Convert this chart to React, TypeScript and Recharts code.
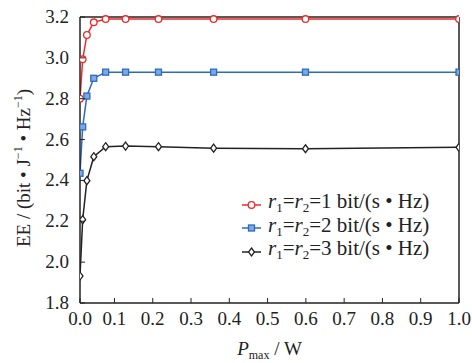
import React from 'react';
import { LineChart, Line, XAxis, YAxis, ReferenceLine } from 'recharts';

const pmax = [0.01, 0.017, 0.028, 0.046, 0.077, 0.129, 0.215, 0.359, 0.599, 1.0];
const eeRate1 = [2.8, 2.993, 3.112, 3.174, 3.19, 3.19, 3.19, 3.19, 3.19, 3.19];
const eeRate2 = [2.435, 2.662, 2.813, 2.9, 2.93, 2.93, 2.93, 2.93, 2.93, 2.93];
const eeRate3 = [1.932, 2.208, 2.399, 2.516, 2.565, 2.568, 2.565, 2.558, 2.555, 2.562];

const xTicks = [0.01, 0.1, 0.2, 0.3, 0.4, 0.5, 0.6, 0.7, 0.8, 0.9, 1.0];
const yTicks = [1.8, 2.0, 2.2, 2.4, 2.6, 2.8, 3.0, 3.2];
const rateLabels = ['1', '2', '3'];

const data = pmax.map((p, i) => ({
  p,
  r1: eeRate1[i],
  r2: eeRate2[i],
  r3: eeRate3[i],
}));

const FONT = '"Liberation Serif", "DejaVu Serif", serif';
const RED = '#ee2a2a';
const BLUE = '#2a6cc4';
const BLACK = '#222222';
const txt = { fontFamily: FONT };

const Circle = ({ cx, cy, color }: any) => (
  <circle cx={cx} cy={cy} r={3.3} fill="#fff" stroke={color} strokeWidth={1.3} />
);
const Square = ({ cx, cy, color }: any) => (
  <rect x={cx - 3} y={cy - 3} width={6} height={6} fill="#7fa8e0" stroke={color} strokeWidth={1.3} />
);
const Diamond = ({ cx, cy, color }: any) => (
  <path
    d={`M${cx},${cy - 4} L${cx + 3},${cy} L${cx},${cy + 4} L${cx - 3},${cy} Z`}
    fill="#fff"
    stroke={color}
    strokeWidth={1.3}
  />
);

const series = [
  { key: 'r1', color: RED, Marker: Circle },
  { key: 'r2', color: BLUE, Marker: Square },
  { key: 'r3', color: BLACK, Marker: Diamond },
];

const XTick = (props: any) => {
  const { x, y, payload } = props;
  return (
    <g>
      <line x1={x} y1={y} x2={x} y2={y - 5} stroke={BLACK} strokeWidth={1} />
      <text x={x} y={y + 22} textAnchor="middle" style={txt} fontSize={19} fill={BLACK}>
        {payload.value.toFixed(1)}
      </text>
    </g>
  );
};

const YTick = (props: any) => {
  const { x, y, payload } = props;
  return (
    <g>
      <line x1={x} y1={y} x2={x + 5} y2={y} stroke={BLACK} strokeWidth={1} />
      <text x={x - 11} y={y + 6} textAnchor="end" style={txt} fontSize={19} fill={BLACK}>
        {payload.value.toFixed(1)}
      </text>
    </g>
  );
};

const YLabel = ({ viewBox }: any) => {
  const cx = viewBox.x + 30;
  const cy = viewBox.y + viewBox.height / 2 + 8;
  return (
    <text
      x={cx}
      y={cy}
      transform={`rotate(-90, ${cx}, ${cy})`}
      textAnchor="middle"
      style={txt}
      fontSize={19}
      fill={BLACK}
    >
      EE / (bit • J<tspan fontSize={12} dy={-8}>−1</tspan>
      <tspan dy={8}> • Hz</tspan>
      <tspan fontSize={12} dy={-8}>−1</tspan>
      <tspan dy={8}>)</tspan>
    </text>
  );
};

const XLabel = ({ viewBox }: any) => {
  const cx = viewBox.x + viewBox.width / 2;
  return (
    <text x={cx} y={355} textAnchor="middle" style={txt} fontSize={19} fill={BLACK}>
      <tspan fontStyle="italic">P</tspan>
      <tspan fontSize={12} dy={4}>max</tspan>
      <tspan dy={-4}> / W</tspan>
    </text>
  );
};

const LegendBox = () => (
  <div
    style={{
      position: 'absolute',
      left: 240,
      top: 193,
      fontFamily: FONT,
      fontSize: 21,
      color: BLACK,
      lineHeight: '23.5px',
    }}
  >
    {series.map((s, i) => (
      <div key={s.key} style={{ display: 'flex', alignItems: 'center', whiteSpace: 'nowrap', height: 23.5 }}>
        <svg width={24} height={12} style={{ marginRight: 4 }}>
          <line x1={2} y1={6} x2={21} y2={6} stroke={s.color} strokeWidth={1.5} />
          <s.Marker cx={11.5} cy={6} color={s.color} />
        </svg>
        <span>
          <i>r</i>
          <sub style={{ fontSize: 13, verticalAlign: '-4px' }}>1</sub>=<i>r</i>
          <sub style={{ fontSize: 13, verticalAlign: '-4px' }}>2</sub>={rateLabels[i]} bit/(s • Hz)
        </span>
      </div>
    ))}
  </div>
);

export default function App() {
  return (
    <div style={{ position: 'absolute', left: 0, top: 0, width: 472, height: 363, background: '#fff' }}>
      <LineChart width={472} height={363} data={data} margin={{ top: 17, right: 13, left: 0, bottom: 0 }}>
        <XAxis
          dataKey="p"
          type="number"
          domain={[0.01, 1]}
          ticks={xTicks}
          allowDataOverflow
          height={60}
          tickSize={0}
          tickMargin={0}
          tickLine={false}
          axisLine={{ stroke: BLACK, strokeWidth: 1.5 }}
          tick={<XTick />}
          interval={0}
          label={<XLabel />}
        />
        <YAxis
          type="number"
          domain={[1.8, 3.2]}
          ticks={yTicks}
          width={80}
          tickSize={0}
          tickMargin={0}
          tickLine={false}
          axisLine={{ stroke: BLACK, strokeWidth: 1.5 }}
          tick={<YTick />}
          interval={0}
          label={<YLabel />}
        />
        <ReferenceLine y={3.2} stroke={BLACK} strokeWidth={1.5} />
        <ReferenceLine x={1} stroke={BLACK} strokeWidth={1.5} />
        {series.map((s) => (
          <Line
            key={s.key}
            dataKey={s.key}
            stroke={s.color}
            strokeWidth={1.5}
            isAnimationActive={false}
            dot={(p: any) => <s.Marker key={`${s.key}-${p.index}`} cx={p.cx} cy={p.cy} color={s.color} />}
          />
        ))}
      </LineChart>
      <LegendBox />
    </div>
  );
}
